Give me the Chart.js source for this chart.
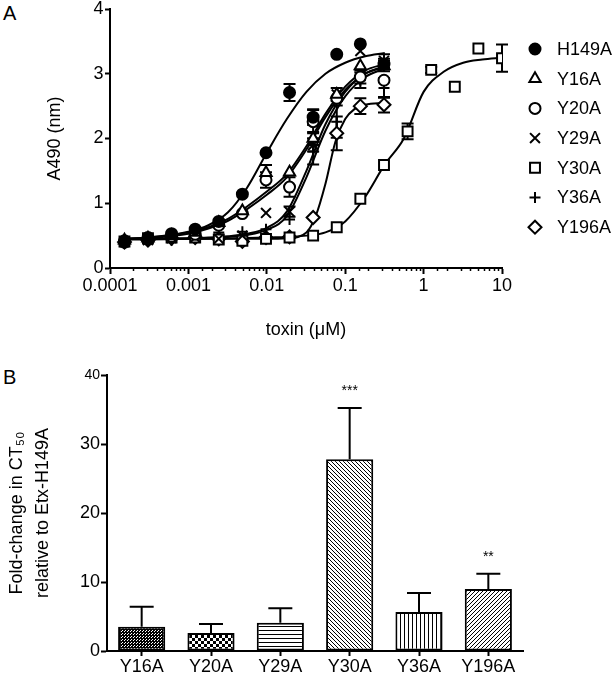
<!DOCTYPE html>
<html>
<head>
<meta charset="utf-8">
<script src="https://cdn.jsdelivr.net/npm/chart.js@4/dist/chart.umd.min.js"></script>
<style>
    html, body { margin: 0; padding: 0; background: #fff; }
    #page   { position: relative; width: 614px; height: 674px; overflow: hidden;
              font-family: 'Liberation Sans', Arial, sans-serif; }
    canvas  { position: absolute; left: 0; }
    #chartA { top: 0; }
    #chartB { top: 350px; }
    .panel  { position: absolute; left: 3px; font-size: 20px; line-height: 20px; color: #000; }
</style>
</head>
<body>
<div id="page">
    <div class="panel" style="top:3px">A</div>
    <canvas id="chartA" width="614" height="350"></canvas>
    <div class="panel" style="top:367px">B</div>
    <canvas id="chartB" width="614" height="324"></canvas>
</div>
<script>
// ── Panel A data (toxin in µM, A490) ───────────────────────────────────────

const concentrations = [0.000153, 0.000305, 0.00061, 0.00122, 0.00244, 0.00488, 0.00977,
                        0.0195, 0.039, 0.078, 0.156, 0.3125, 0.625, 1.25, 2.5, 5, 10];

const h149aMean = [0.42, 0.47, 0.53, 0.60, 0.72, 1.14, 1.78, 2.71, 2.33, 3.30, 3.46, 3.15];
const h149aErr  = [0, 0, 0, 0, 0, 0, 0, 0.13, 0.12, 0, 0, 0.08];
const y16aMean  = [0.43, 0.46, 0.50, 0.55, 0.70, 0.88, 1.47, 1.48, 2.00, 2.68, 3.12, 3.12];
const y16aErr   = [0, 0, 0, 0, 0, 0, 0.12, 0, 0.10, 0.10, 0, 0.08];
const y20aMean  = [0.40, 0.45, 0.49, 0.52, 0.66, 0.84, 1.36, 1.25, 2.26, 2.62, 2.95, 2.90];
const y20aErr   = [0, 0, 0, 0, 0, 0, 0.12, 0.15, 0.18, 0, 0.10, 0];
const y29aMean  = [0.40, 0.43, 0.46, 0.47, 0.45, 0.50, 0.85, 0.87, 1.90, 2.68, 3.35, 3.20];
const y29aErr   = [0, 0, 0, 0, 0, 0, 0, 0.08, 0.10, 0, 0, 0.10];
const y30aMean  = [0.41, 0.46, 0.47, 0.47, 0.44, 0.42, 0.45, 0.47, 0.50, 0.63, 1.07, 1.59,
                   2.11, 3.06, 2.80, 3.39, 3.24];
const y30aErr   = [0, 0, 0, 0, 0, 0, 0, 0, 0, 0, 0, 0, 0.12, 0.05, 0, 0, 0.21];
const y36aMean  = [0.38, 0.41, 0.43, 0.46, 0.55, 0.56, 0.60, 0.75, 1.80, 2.26, 2.90, 2.78];
const y36aErr   = [0, 0, 0, 0, 0, 0, 0, 0, 0.20, 0.25, 0.12, 0.15];
const y196aMean = [0.40, 0.43, 0.46, 0.47, 0.45, 0.41, 0.47, 0.48, 0.78, 2.08, 2.50, 2.52];
const y196aErr  = [0, 0, 0, 0, 0, 0, 0, 0, 0, 0.26, 0.12, 0.12];

// fitted curves
const fitConc    = [0.00016, 0.0003, 0.001, 0.0018, 0.0032, 0.0056, 0.01, 0.018, 0.032, 0.056, 0.1, 0.18, 0.32];
const h149aFit   = [0.45, 0.47, 0.56, 0.66, 0.86, 1.24, 1.78, 2.30, 2.72, 3.00, 3.17, 3.27, 3.32];
const y16aFit    = [0.45, 0.47, 0.55, 0.63, 0.76, 0.95, 1.18, 1.45, 1.88, 2.38, 2.80, 3.05, 3.15];
const y20aFit    = [0.44, 0.46, 0.53, 0.61, 0.73, 0.91, 1.13, 1.40, 1.83, 2.33, 2.75, 3.00, 3.10];
const y29aFit    = [0.45, 0.45, 0.46, 0.47, 0.49, 0.53, 0.62, 0.87, 1.50, 2.22, 2.72, 3.00, 3.12];
const y36aFit    = [0.44, 0.44, 0.45, 0.46, 0.48, 0.51, 0.59, 0.80, 1.40, 2.12, 2.65, 2.95, 3.08];
const y30aFitConc = [0.00016, 0.001, 0.01, 0.032, 0.056, 0.1, 0.18, 0.32, 0.56, 1, 1.8, 3.2, 5.6, 10];
const y30aFit     = [0.45, 0.45, 0.47, 0.50, 0.55, 0.72, 1.10, 1.60, 2.00, 2.72, 3.03, 3.17, 3.22, 3.25];
const y196aFitConc = [0.00016, 0.001, 0.01, 0.018, 0.032, 0.042, 0.056, 0.075, 0.1, 0.13, 0.18, 0.32];
const y196aFit     = [0.45, 0.45, 0.45, 0.46, 0.55, 0.80, 1.30, 1.95, 2.30, 2.45, 2.52, 2.55];

// ── Panel B data ───────────────────────────────────────────────────────────

const mutants      = ['Y16A', 'Y20A', 'Y29A', 'Y30A', 'Y36A', 'Y196A'];
const foldChange   = [3.5, 2.6, 4.1, 27.8, 5.65, 9.0];
const foldSem      = [2.9, 1.3, 2.1, 7.4, 2.75, 2.2];
const significance = ['', '', '', '***', '', '**'];

const FONT = "'Liberation Sans', Arial, sans-serif";
Chart.defaults.font.family = FONT;
Chart.defaults.font.size   = 18;
Chart.defaults.color       = '#000';

// ── Panel A ────────────────────────────────────────────────────────────────

const seriesA = [
    { label: 'H149A', mean: h149aMean, err: h149aErr, fx: fitConc,      fy: h149aFit, style: 'circle',   fill: '#000', r: 5.5 },
    { label: 'Y16A',  mean: y16aMean,  err: y16aErr,  fx: fitConc,      fy: y16aFit,  style: 'triangle', fill: '#fff', r: 6.5 },
    { label: 'Y20A',  mean: y20aMean,  err: y20aErr,  fx: fitConc,      fy: y20aFit,  style: 'circle',   fill: '#fff', r: 5.5 },
    { label: 'Y29A',  mean: y29aMean,  err: y29aErr,  fx: fitConc,      fy: y29aFit,  style: 'crossRot', fill: '#fff', r: 7 },
    { label: 'Y30A',  mean: y30aMean,  err: y30aErr,  fx: y30aFitConc,  fy: y30aFit,  style: 'rect',     fill: '#fff', r: 7 },
    { label: 'Y36A',  mean: y36aMean,  err: y36aErr,  fx: fitConc,      fy: y36aFit,  style: 'cross',    fill: '#fff', r: 5.5 },
    { label: 'Y196A', mean: y196aMean, err: y196aErr, fx: y196aFitConc, fy: y196aFit, style: 'rectRot',  fill: '#fff', r: 6.5 },
];

const isDecade = v => Math.abs(Math.log10(v) - Math.round(Math.log10(v))) < 1e-6;

const pointSets = seriesA.map(s => ({
    label: s.label,
    data: s.mean.map((y, i) => ({ x: concentrations[i], y })),
    errors: s.err,
    pointStyle: s.style,
    pointRadius: s.r,
    pointBackgroundColor: s.fill,
    pointBorderColor: '#000',
    pointBorderWidth: 2,
    showLine: false,
    order: 0,
}));

const curveSets = seriesA.map(s => ({
    label: s.label + ' fit',
    data: s.fy.map((y, i) => ({ x: s.fx[i], y })),
    showLine: true,
    borderColor: '#000',
    borderWidth: 2,
    pointRadius: 0,
    cubicInterpolationMode: 'monotone',
    order: 1,
}));

const errorBarsA = {
    id: 'errorBarsA',
    beforeDatasetsDraw(chart) {
        const { ctx, scales: { x, y } } = chart;
        ctx.save();
        ctx.strokeStyle = '#000';
        ctx.lineWidth   = 2;
        chart.data.datasets.forEach(ds => {
            if (!ds.errors) return;
            ds.data.forEach((p, i) => {
                const e = ds.errors[i];
                if (!e) return;
                const px  = x.getPixelForValue(p.x);
                const top = y.getPixelForValue(p.y + e);
                const bot = y.getPixelForValue(p.y - e);
                ctx.beginPath();
                ctx.moveTo(px, top);     ctx.lineTo(px, bot);
                ctx.moveTo(px - 6, top); ctx.lineTo(px + 6, top);
                ctx.moveTo(px - 6, bot); ctx.lineTo(px + 6, bot);
                ctx.stroke();
            });
        });
        ctx.restore();
    },
};

const sideLegend = {
    id: 'sideLegend',
    afterDraw(chart) {
        const { ctx, chartArea } = chart;
        const items = chart.data.datasets.filter(ds => ds.errors);
        ctx.save();
        ctx.font = `18px ${FONT}`;
        ctx.textBaseline = 'middle';
        items.forEach((ds, i) => {
            const cx = chartArea.right + 33;
            const cy = chartArea.top + 40 + i * 29.7;
            ctx.strokeStyle = '#000';
            ctx.fillStyle   = ds.pointBackgroundColor;
            ctx.lineWidth   = 2;
            if (Chart.helpers && Chart.helpers.drawPoint) {
                Chart.helpers.drawPoint(ctx, { pointStyle: ds.pointStyle, radius: ds.pointRadius, borderWidth: 2, rotation: 0 }, cx, cy);
            }
            ctx.fillStyle = '#000';
            ctx.fillText(ds.label, cx + 22, cy + 1);
        });
        ctx.restore();
    },
};

new Chart(document.getElementById('chartA'), {
    type: 'scatter',
    data: { datasets: [...pointSets, ...curveSets] },
    options: {
        responsive: false,
        animation: false,
        devicePixelRatio: 1,
        layout: { padding: { top: 7, right: 112, left: 0, bottom: 0 } },
        plugins: { legend: { display: false }, tooltip: { enabled: false } },
        scales: {
            x: {
                type: 'logarithmic',
                min: 0.0001,
                max: 10,
                border: { color: '#000', width: 2 },
                grid: { drawOnChartArea: false, tickLength: 6, tickColor: '#000', tickWidth: 2 },
                ticks: {
                    autoSkip: false,
                    maxRotation: 0,
                    padding: 1,
                    font: { size: 18 },
                    callback: v => (isDecade(v) ? String(+v.toPrecision(3)) : ''),
                },
                afterBuildTicks(scale) { scale.ticks = scale.ticks.filter(t => isDecade(t.value)); },
                title: { display: true, text: 'toxin (\u03BCM)', font: { size: 18 }, padding: { top: 0, bottom: 9 } },
                afterFit(scale) { scale.height = 82; scale.paddingLeft = 0; scale.paddingRight = 0; },
            },
            // short minor ticks between the decades
            xMinor: {
                type: 'logarithmic',
                position: { y: 0 },
                min: 0.0001,
                max: 10,
                border: { display: false },
                grid: { drawOnChartArea: false, tickLength: 3, tickColor: '#000', tickWidth: 1.5 },
                ticks: { display: false, autoSkip: false },
                afterBuildTicks(scale) { scale.ticks = scale.ticks.filter(t => !isDecade(t.value)); },
            },
            y: {
                min: 0,
                max: 4,
                border: { color: '#000', width: 2 },
                grid: { drawOnChartArea: false, tickLength: 5, tickColor: '#000', tickWidth: 2 },
                ticks: { stepSize: 1, padding: 1.5, font: { size: 18 } },
                title: { display: true, text: 'A490 (nm)', font: { size: 18 }, padding: { top: 44, bottom: 0 } },
                afterFit(scale) { scale.width = 110; scale.paddingTop = 0; scale.paddingBottom = 0; },
            },
        },
    },
    plugins: [errorBarsA, sideLegend],
});

// ── Panel B ────────────────────────────────────────────────────────────────

const patternKinds = ['grid', 'checker', 'hlines', 'diagDown', 'vlines', 'diagUp'];

function makePattern(kind) {
    const sizes = { grid: 3, checker: 6, hlines: 4, diagDown: 4, vlines: 4, diagUp: 4 };
    const s = sizes[kind];
    const c = document.createElement('canvas');
    c.width = c.height = s;
    const g = c.getContext('2d');
    g.fillStyle = '#fff';
    g.fillRect(0, 0, s, s);
    g.fillStyle = '#000';
    for (let i = 0; i < s; i++) {
        for (let j = 0; j < s; j++) {
            let on = false;
            if (kind === 'grid')     on = i === 0 || j === 0 || i === j;
            if (kind === 'checker')  on = (i < 3) === (j < 3);
            if (kind === 'hlines')   on = j === 0;
            if (kind === 'vlines')   on = i === 0;
            if (kind === 'diagDown') on = i === j;
            if (kind === 'diagUp')   on = i + j === s - 1;
            if (on) g.fillRect(i, j, 1, 1);
        }
    }
    return g.createPattern(c, 'repeat');
}

const barExtras = {
    id: 'barExtras',
    afterDatasetsDraw(chart) {
        const { ctx } = chart;
        const y    = chart.scales.y;
        const ds   = chart.data.datasets[0];
        const meta = chart.getDatasetMeta(0);
        ctx.save();
        ctx.strokeStyle = '#000';
        ctx.fillStyle   = '#000';
        ctx.lineWidth   = 2;
        ctx.font        = `14px ${FONT}`;
        ctx.textAlign   = 'center';
        ctx.textBaseline = 'alphabetic';
        meta.data.forEach((bar, i) => {
            const top = y.getPixelForValue(ds.data[i] + foldSem[i]);
            ctx.beginPath();
            ctx.moveTo(bar.x, bar.y);       ctx.lineTo(bar.x, top);
            ctx.moveTo(bar.x - 12, top);    ctx.lineTo(bar.x + 12, top);
            ctx.stroke();
            if (significance[i]) ctx.fillText(significance[i], bar.x, top - 13);
        });
        ctx.restore();
    },
};

new Chart(document.getElementById('chartB'), {
    type: 'bar',
    data: {
        labels: mutants,
        datasets: [{
            data: foldChange,
            backgroundColor: patternKinds.map(makePattern),
            borderColor: '#000',
            borderWidth: 2,
            borderSkipped: false,
            barPercentage: 0.68,
            categoryPercentage: 1,
        }],
    },
    options: {
        responsive: false,
        animation: false,
        devicePixelRatio: 1,
        layout: { padding: { top: 25, right: 91, left: 0, bottom: 0 } },
        plugins: { legend: { display: false }, tooltip: { enabled: false } },
        scales: {
            x: {
                border: { color: '#000', width: 2 },
                grid: { drawOnChartArea: false, offset: false, tickLength: 5, tickColor: '#000', tickWidth: 2 },
                ticks: { padding: 0, maxRotation: 0, font: { size: 18 } },
                afterFit(scale) { scale.height = 23; scale.paddingLeft = 0; scale.paddingRight = 0; },
            },
            y: {
                min: 0,
                max: 40,
                border: { color: '#000', width: 2 },
                grid: { drawOnChartArea: false, tickLength: 6, tickColor: '#000', tickWidth: 2 },
                ticks: {
                    stepSize: 10,
                    padding: 1,
                    font: c => (c.tick && c.tick.value === 40 ? { size: 14 } : { size: 18 }),
                },
                title: {
                    display: true,
                    text: ['Fold-change in CT\u2085\u2080', 'relative to Etx-H149A'],
                    font: { size: 18, lineHeight: 1.45 },
                    padding: { top: 4, bottom: 0 },
                },
                afterFit(scale) { scale.width = 107; scale.paddingTop = 0; scale.paddingBottom = 0; },
            },
        },
    },
    plugins: [barExtras],
});
</script>
</body>
</html>
